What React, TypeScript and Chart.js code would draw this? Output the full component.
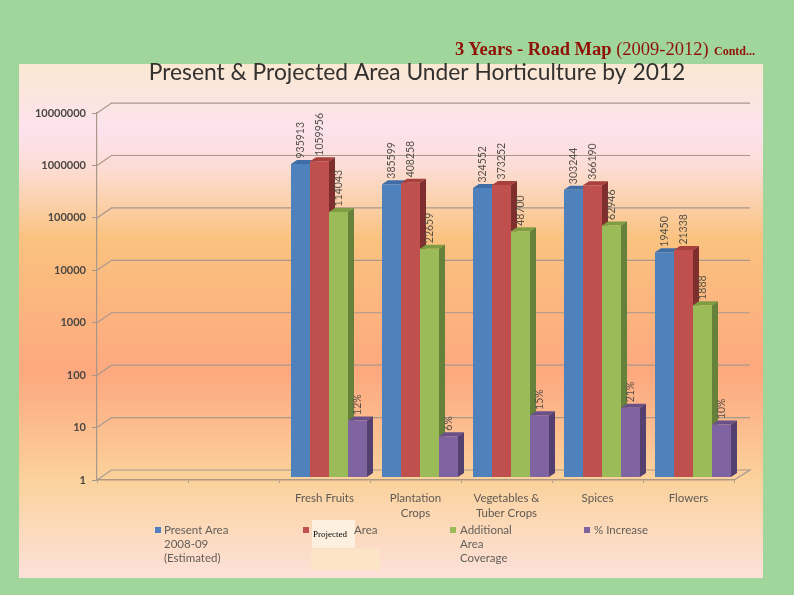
import React, { useEffect, useRef } from "react";
import { Chart, registerables } from "chart.js";

Chart.register(...registerables);

const categories = ["", "", "Fresh Fruits", ["Plantation", "Crops"], ["Vegetables &", "Tuber Crops"], "Spices", "Flowers"];
const presentArea = [null, null, 935913, 385599, 324552, 303244, 19450];
const projectedArea = [null, null, 1059956, 408258, 373252, 366190, 21338];
const additionalArea = [null, null, 114043, 22659, 48700, 62946, 1888];
const pctIncrease = [null, null, 12, 6, 15, 21, 10];
const yTicks = [1, 10, 100, 1000, 10000, 100000, 1000000, 10000000];

const seriesNames = ["Present Area 2008-09 (Estimated)", "Projected Area", "Additional Area Coverage", "% Increase"];
const frontColors = ["#4f81bd", "#c0504d", "#9bbb59", "#8064a2"];
const topColors = ["#3f6ea6", "#a8413e", "#7f9e44", "#6a5089"];
const sideColors = ["#35598a", "#7e2f2d", "#66823a", "#54406f"];

const titleText = "Present & Projected Area Under Horticulture by 2012";
const headerBold = "3 Years - Road Map";
const headerYears = "(2009-2012)";
const headerSmall = "Contd...";

const DX = 4.5, DY = -3, DEPTH_X = 6, DEPTH_Y = 4, BACK_X = 14.5, BACK_Y = -10;
const FONT = "Lato, 'Open Sans', sans-serif";

const stagePlugin = {
  id: "stage",
  afterLayout(chart: any) {
    if (chart.titleBlock) {
      chart.titleBlock.left = 0;
      chart.titleBlock.right = 834;
    }
  },
  beforeDraw(chart: any) {
    const c = chart.ctx;
    c.save();
    c.fillStyle = "#a0d69c";
    c.fillRect(0, 0, 794, 595);
    const g = c.createLinearGradient(0, 64, 0, 578);
    g.addColorStop(0, "#fbe8d2");
    g.addColorStop(0.13, "#fde2ee");
    g.addColorStop(0.21, "#fcdcd0");
    g.addColorStop(0.34, "#fac27f");
    g.addColorStop(0.6, "#fda87f");
    g.addColorStop(0.81, "#fbd29c");
    g.addColorStop(1, "#fde1da");
    c.fillStyle = g;
    c.fillRect(19, 64, 744, 514);
    c.restore();
  },
  beforeDatasetsDraw(chart: any) {
    const c = chart.ctx;
    const y = chart.scales.y;
    const a = chart.chartArea;
    c.save();
    c.lineWidth = 1.2;
    c.strokeStyle = "#a8988c";
    yTicks.forEach((t) => {
      const p = y.getPixelForValue(t);
      c.beginPath();
      c.moveTo(a.left, p);
      c.lineTo(a.left + BACK_X, p + BACK_Y);
      c.lineTo(750, p + BACK_Y);
      if (t === 1) c.lineTo(a.right, p);
      c.stroke();
    });
    c.restore();
    c.save();
    c.translate(DX, DY);
    for (let d = 0; d < 4; d++) {
      chart.getDatasetMeta(d).data.forEach((b: any, i: number) => {
        if (chart.data.datasets[d].data[i] == null) return;
        const l = b.x - b.width / 2, r = b.x + b.width / 2;
        c.fillStyle = topColors[d];
        c.beginPath();
        c.moveTo(l, b.y);
        c.lineTo(l + DEPTH_X, b.y - DEPTH_Y);
        c.lineTo(r + DEPTH_X, b.y - DEPTH_Y);
        c.lineTo(r, b.y);
        c.fill();
        c.fillStyle = sideColors[d];
        c.beginPath();
        c.moveTo(r, b.y);
        c.lineTo(r + DEPTH_X, b.y - DEPTH_Y);
        c.lineTo(r + DEPTH_X, b.base - DEPTH_Y);
        c.lineTo(r, b.base);
        c.fill();
      });
    }
  },
  afterDatasetsDraw(chart: any) {
    const c = chart.ctx;
    c.fillStyle = "#555049";
    c.font = "10.5px " + FONT;
    c.textAlign = "left";
    c.textBaseline = "middle";
    for (let d = 0; d < 4; d++) {
      chart.getDatasetMeta(d).data.forEach((b: any, i: number) => {
        const v = chart.data.datasets[d].data[i];
        if (v == null) return;
        c.save();
        c.translate(b.x, b.y - 5.5);
        c.rotate(-Math.PI / 2);
        c.fillText(d === 3 ? v + "%" : String(v), 0, 0);
        c.restore();
      });
    }
    c.restore();
  },
};

const legendItems = [
  { lines: ["Present Area", "2008-09", "(Estimated)"], sx: 155, tx: 164 },
  { lines: ["Area"], sx: 303, tx: 354 },
  { lines: ["Additional", "Area", "Coverage"], sx: 450, tx: 460 },
  { lines: ["% Increase"], sx: 584, tx: 594 },
];

export default function App() {
  const ref = useRef<HTMLCanvasElement | null>(null);
  useEffect(() => {
    const chart = new Chart(ref.current as HTMLCanvasElement, {
      type: "bar",
      data: {
        labels: categories as any,
        datasets: [presentArea, projectedArea, additionalArea, pctIncrease].map((data, i) => ({
          label: seriesNames[i],
          data: data as any,
          backgroundColor: frontColors[i],
          borderWidth: 0,
          categoryPercentage: 0.835,
          barPercentage: 1,
        })),
      },
      options: {
        responsive: false,
        animation: false,
        devicePixelRatio: 1,
        layout: { padding: { top: 0, left: 0, right: 60, bottom: 0 } },
        plugins: {
          legend: { display: false },
          tooltip: { enabled: false },
          title: {
            display: true,
            text: titleText,
            color: "#33312f",
            font: { family: FONT, size: 22.8, weight: "normal" },
            padding: { top: 59, bottom: 26.7 },
          },
        },
        scales: {
          x: {
            grid: { drawOnChartArea: false, drawTicks: true, tickLength: 3, color: "#b0a090", offset: true },
            border: { color: "#b09880", width: 1.5 },
            ticks: { color: "#5f5a55", font: { family: FONT, size: 11.5, lineHeight: 1.3 }, padding: 7.5, maxRotation: 0, autoSkip: false },
            afterFit(s: any) { s.height = 115; },
          },
          y: {
            type: "logarithmic",
            min: 1,
            max: 10000000,
            grid: { drawOnChartArea: false, drawTicks: true, tickLength: 5, color: "#a8988c" },
            border: { color: "#a8988c", width: 1.2 },
            afterBuildTicks(s: any) { s.ticks = yTicks.map((value) => ({ value })); },
            ticks: {
              color: "#4a4642",
              font: { family: FONT, size: 11, weight: "bold" },
              padding: 6,
              callback: (v: any) => String(v),
            },
            afterFit(s: any) { s.width = 97; },
          },
        },
      },
      plugins: [stagePlugin],
    } as any);
    return () => chart.destroy();
  }, []);

  const txt: React.CSSProperties = { position: "absolute", whiteSpace: "nowrap" };
  return (
    <div style={{ position: "fixed", left: 0, top: 0, width: 794, height: 595, overflow: "hidden" }}>
      <canvas ref={ref} width={794} height={595} style={{ display: "block", width: 794, height: 595 }} />
      <div style={{ ...txt, left: 455, top: 39, color: "#8f1208", fontFamily: "'Liberation Serif', serif", fontSize: 18.5, lineHeight: "20px" }}>
        <span style={{ fontWeight: 700 }}>{headerBold}</span> <span>{headerYears}</span>
      </div>
      <div style={{ ...txt, left: 714, top: 45, color: "#8f1208", fontFamily: "'Liberation Serif', serif", fontSize: 12, fontWeight: 700, lineHeight: "12px" }}>{headerSmall}</div>
      <div style={{ position: "absolute", left: 311, top: 549, width: 69, height: 21, background: "#fce4c6" }} />
      <div style={{ position: "absolute", left: 312, top: 520, width: 43, height: 28, background: "#fdf0e0" }} />
      <div style={{ ...txt, left: 313, top: 528, color: "#000", fontFamily: "'Liberation Serif', serif", fontSize: 9, lineHeight: "12px" }}>Projected</div>
      {legendItems.map((it, i) => (
        <React.Fragment key={i}>
          <div style={{ position: "absolute", left: it.sx, top: 527, width: 6, height: 6, background: frontColors[i] }} />
          <div style={{ ...txt, left: it.tx, top: 523, color: "#625e5a", fontFamily: FONT, fontSize: 11.5, lineHeight: "14px" }}>
            {it.lines.map((l, j) => <div key={j}>{l}</div>)}
          </div>
        </React.Fragment>
      ))}
    </div>
  );
}
